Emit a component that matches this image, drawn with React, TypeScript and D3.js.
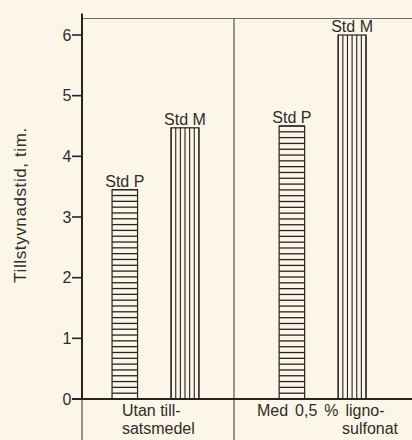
import React from "react";
import * as d3 from "d3";

const categories = ["Utan tillsatsmedel", "Med 0,5 % lignosulfonat"];
const categoryLabelLines = [
  ["Utan till-", "satsmedel"],
  ["Med 0,5 % ligno-", "sulfonat"],
];
const seriesNames = ["Std P", "Std M"];
const stdP = [3.45, 4.5];
const stdM = [4.47, 6.0];
const yTicks = [0, 1, 2, 3, 4, 5, 6];
const yAxisLabel = "Tillstyvnadstid, tim.";

const W = 412;
const H = 440;
const FONT = "'Liberation Sans', Arial, Helvetica, sans-serif";
const BG = "#fbf6e8";
const INK = "#262320";
const TEXT = "#2f2c28";

export default function App() {
  const y = d3.scaleLinear().domain([0, 6]).range([399, 35]);
  const x = d3.scaleBand().domain(categories).range([71.35, 405.55]).padding(0);
  const xSub = d3.scaleBand().domain(seriesNames).range([-60.2, 60.2]).padding(0);
  const barW: Record<string, number> = { "Std P": 25.5, "Std M": 27.8 };

  const axisX = 82;
  const topY = 18.5;
  const sepX = 234;

  const bars: any[] = [];
  categories.forEach((c, ci) => {
    [stdP[ci], stdM[ci]].forEach((v, si) => {
      const s = seriesNames[si];
      const cx = (x(c) as number) + x.bandwidth() / 2 + (xSub(s) as number) + xSub.bandwidth() / 2;
      const w = barW[s];
      bars.push({ c, s, v, x0: cx - w / 2, w, top: y(v), bottom: y(0), cx });
    });
  });

  return (
    <svg
      width={W}
      height={H}
      style={{ position: "absolute", left: 0, top: 0, background: BG }}
      fontFamily={FONT}
    >
      <rect x={0} y={0} width={W} height={H} fill={BG} />
      {/* top frame line */}
      <line x1={axisX} x2={W} y1={topY} y2={topY} stroke="#6e6a63" strokeWidth={1.2} />
      {/* separator */}
      <line x1={sepX} x2={sepX} y1={topY} y2={H} stroke="#4a4640" strokeWidth={1.1} />
      {/* y axis below zero (thin) */}
      <line x1={axisX} x2={axisX} y1={y(0)} y2={H} stroke="#4a4640" strokeWidth={1.1} />

      {/* bars */}
      {bars.map((b, i) => {
        const h = b.bottom - b.top;
        const lines: any[] = [];
        if (b.s === "Std P") {
          const n = Math.round(h / 5.8);
          d3.range(n + 1).forEach((k) => {
            const yy = b.top + (k * h) / n;
            lines.push(
              <line key={k} x1={b.x0} x2={b.x0 + b.w} y1={yy} y2={yy} stroke={INK} strokeWidth={1.3} />
            );
          });
        } else {
          const n = Math.round(b.w / 4.3);
          d3.range(n + 1).forEach((k) => {
            const xx = b.x0 + (k * b.w) / n;
            lines.push(
              <line key={k} x1={xx} x2={xx} y1={b.top} y2={b.bottom} stroke={INK} strokeWidth={1.1} />
            );
          });
        }
        return (
          <g key={i}>
            <rect x={b.x0} y={b.top} width={b.w} height={h} fill={BG} stroke={INK} strokeWidth={1.2} />
            {lines}
            <text x={b.cx} y={b.top - 3} textAnchor="middle" fontSize={16} fill={TEXT}>
              {b.s}
            </text>
          </g>
        );
      })}

      {/* y axis */}
      <line x1={axisX} x2={axisX} y1={13.5} y2={y(0)} stroke={INK} strokeWidth={2} />
      {yTicks.map((t) => (
        <g key={t}>
          <line x1={axisX - 10} x2={axisX} y1={y(t)} y2={y(t)} stroke={INK} strokeWidth={1.6} />
          <text x={axisX - 10.5} y={y(t)} dy="0.36em" textAnchor="end" fontSize={16} fill={TEXT}>
            {t}
          </text>
        </g>
      ))}
      {/* baseline */}
      <line x1={axisX - 10} x2={W} y1={y(0)} y2={y(0)} stroke={INK} strokeWidth={2.2} />

      {/* category labels */}
      {categories.map((c, ci) => {
        const cx = (x(c) as number) + x.bandwidth() / 2;
        const [l1, l2] = categoryLabelLines[ci];
        const x1 = ci === 0 ? cx - 33 : cx - 65;
        const x2 = ci === 0 ? cx - 33 : cx + 20;
        return (
          <g key={c} fontSize={16} fill={TEXT}>
            <text x={x1} y={416} style={{ wordSpacing: ci === 1 ? "2.5px" : "0px" }}>{l1}</text>
            <text x={x2} y={434}>{l2}</text>
          </g>
        );
      })}

      {/* y axis label */}
      <text
        transform={`translate(26,205) rotate(-90)`}
        textAnchor="middle"
        fontSize={17}
        fill={TEXT}
        style={{ letterSpacing: "0.6px" }}
      >
        {yAxisLabel}
      </text>
    </svg>
  );
}
